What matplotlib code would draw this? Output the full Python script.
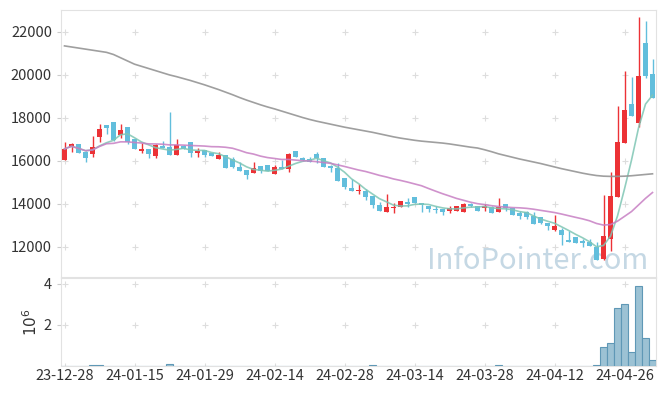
import numpy as np
import pandas as pd
import matplotlib
matplotlib.use('Agg')
import matplotlib.pyplot as plt

# daily OHLC (trading-day index 0..84)
opens = [16060, 16670, 16790, 16430, 16340, 17130, 17680, 17810, 17200, 17580,
         17020, 16470, 16560, 16250, 16710, 16640, 16290, 16700, 16870, 16360,
         16500, 16360, 16110, 16280, 16080, 15710, 15580, 15460, 15770, 15800,
         15380, 15710, 15640, 16470, 16140, 16090, 16330, 16130, 15780, 15690,
         15210, 14740, 14580, 14590, 14370, 13970, 13640, 13830, 13850, 14110,
         14310, 14030, 13880, 13750, 13740, 13660, 13670, 13630, 13990, 13910,
         13790, 13870, 13640, 13990, 13800, 13570, 13640, 13460, 13400, 13120,
         12800, 12790, 12330, 12450, 12280, 12240, 12010, 11430, 12360, 14310,
         16830, 18640, 17760, 21500, 20040]
highs = [16900, 16850, 16800, 16440, 17160, 17720, 17690, 17820, 17720, 17590,
         17030, 16850, 16560, 16770, 16940, 18270, 17010, 16720, 16880, 16600,
         16510, 16370, 16430, 16290, 16200, 15940, 15590, 15950, 15780, 15810,
         15800, 16050, 16390, 16480, 16200, 16200, 16410, 16140, 15790, 15890,
         15220, 15150, 14920, 14700, 14380, 14100, 14450, 14060, 14150, 14260,
         14330, 14040, 13890, 13900, 13750, 13900, 13920, 14020, 14060, 13920,
         14000, 13880, 14270, 14000, 13810, 13670, 13650, 13640, 13410, 13130,
         13490, 12900, 12760, 12460, 12360, 12360, 12220, 14410, 15470, 18570,
         20200, 19910, 22680, 22490, 20720]
lows = [16040, 16420, 16380, 15970, 16200, 16870, 17240, 16940, 17080, 16780,
        16560, 16360, 16130, 16130, 16580, 16270, 16280, 16560, 16200, 16200,
        16200, 16240, 16100, 15680, 15660, 15540, 15180, 15450, 15430, 15510,
        15370, 15630, 15470, 16160, 16010, 15960, 15890, 15730, 15500, 15050,
        14680, 14580, 14450, 14200, 13800, 13680, 13640, 13600, 13840, 13870,
        14020, 13640, 13640, 13570, 13490, 13590, 13660, 13620, 13870, 13680,
        13660, 13590, 13640, 13690, 13490, 13300, 13290, 13060, 13080, 12790,
        12750, 12090, 12220, 12180, 12010, 12040, 11390, 11400, 11810, 14300,
        16820, 18080, 17580, 19870, 18920]
closes = [16560, 16800, 16390, 16150, 16650, 17490, 17550, 16950, 17440, 16880,
          16570, 16560, 16310, 16760, 16590, 16280, 16730, 16570, 16390, 16480,
          16270, 16250, 16290, 15690, 15740, 15550, 15360, 15670, 15520, 15520,
          15740, 15640, 16330, 16170, 16020, 15970, 16140, 15740, 15660, 15060,
          14780, 14590, 14640, 14340, 13950, 13690, 13860, 13870, 14140, 13990,
          14030, 13940, 13770, 13710, 13630, 13810, 13910, 14010, 13880, 13690,
          13910, 13600, 13850, 13800, 13500, 13460, 13380, 13070, 13090, 12980,
          12980, 12560, 12230, 12190, 12170, 12050, 11400, 12510, 14370, 16860,
          18350, 18090, 19970, 19940, 18930]
volumes = [9000, 8000, 12000, 10000, 65000, 60000, 9000, 11000, 8000, 10000,
           9000, 7000, 8000, 9000, 10000, 110000, 12000, 8000, 9000, 7000,
           8000, 7000, 6000, 9000, 8000, 7000, 9000, 8000, 7000, 6000,
           8000, 7000, 10000, 8000, 7000, 6000, 8000, 7000, 6000, 9000,
           10000, 8000, 7000, 9000, 50000, 9000, 10000, 8000, 9000, 7000,
           8000, 6000, 7000, 6000, 7000, 8000, 9000, 10000, 7000, 8000,
           9000, 8000, 50000, 9000, 8000, 7000, 8000, 9000, 7000, 8000,
           10000, 12000, 9000, 8000, 9000, 12000, 40000, 930000, 1120000, 2830000,
           3020000, 680000, 3900000, 1370000, 310000]
# 60-day moving average (needs history before the window)
ma60 = [21350, 21300, 21250, 21200, 21150, 21100, 21050, 20950, 20800, 20650,
        20500, 20400, 20300, 20200, 20100, 20000, 19920, 19830, 19740, 19640,
        19540, 19430, 19320, 19200, 19080, 18950, 18830, 18720, 18610, 18510,
        18420, 18320, 18220, 18120, 18020, 17930, 17850, 17780, 17710, 17640,
        17570, 17510, 17450, 17390, 17330, 17260, 17190, 17120, 17060, 17010,
        16960, 16920, 16890, 16860, 16830, 16790, 16740, 16690, 16640, 16600,
        16520, 16430, 16330, 16250, 16170, 16090, 16020, 15950, 15880, 15800,
        15720, 15640, 15570, 15500, 15430, 15370, 15320, 15290, 15280, 15280,
        15290, 15310, 15340, 15370, 15400]
tick_labels = ['23-12-28', '24-01-15', '24-01-29', '24-02-14', '24-02-28',
               '24-03-14', '24-03-28', '24-04-12', '24-04-26']

o = np.array(opens)
h = np.array(highs)
l = np.array(lows)
c = np.array(closes)
x = np.arange(len(c))
ma5 = pd.Series(closes).rolling(5, min_periods=1).mean()
ma20 = pd.Series(closes).rolling(20, min_periods=1).mean()

UP = '#ec3236'
DOWN = '#62bedc'
fams = ['Noto Sans CJK KR', 'DejaVu Sans']

fig = plt.figure(figsize=(6.65, 3.96), dpi=100)
ax = fig.add_axes([61/665, 1-277/396, 595/665, 267/396])
axv = fig.add_axes([61/665, 1-366/396, 595/665, 88/396], sharex=ax)

cols = np.where(c >= o, UP, DOWN)
ax.vlines(x, l, h, colors=cols, lw=1.0, zorder=3)
body = np.maximum(np.abs(c - o), 25)
ax.bar(x, body, bottom=np.minimum(o, c), width=0.6, color=cols, zorder=3)

ax.plot(x, ma5, color='#7fc6b4', lw=1.2, alpha=0.85, zorder=4)
ax.plot(x, ma20, color='#c77fc3', lw=1.2, alpha=0.85, zorder=4)
ax.plot(x, ma60, color='#959595', lw=1.2, alpha=0.9, zorder=4)

ax.text(0.987, 0.03, 'InfoPointer.com', transform=ax.transAxes, ha='right',
        va='baseline', fontsize=21, color='#c5d8e4', family=fams, zorder=1)

axv.bar(x, volumes, width=1.0, color='#9cc2d4', edgecolor='#5f98b6', lw=0.8, zorder=3)

xt = np.arange(0, len(c), 10)
yt = np.arange(12000, 22001, 2000)
vt = [0, 2e6, 4e6]
gx, gy = np.meshgrid(xt, yt)
ax.plot(gx.ravel(), gy.ravel(), '+', color='#dddddd', ms=5, mew=0.8, zorder=0)
gx, gy = np.meshgrid(xt, vt)
axv.plot(gx.ravel(), gy.ravel(), '+', color='#dddddd', ms=5, mew=0.8, zorder=0)

ax.set_xlim(-0.5, len(c) - 0.5)
ax.set_ylim(10600, 23020)
axv.set_ylim(0, 4.28e6)

ax.set_yticks(yt)
ax.set_yticklabels([str(v) for v in yt], family=fams, fontsize=10.5)
ax.tick_params(axis='x', bottom=False, labelbottom=False)
axv.set_xticks(xt)
axv.set_xticklabels(tick_labels, family=fams, fontsize=10.5)
axv.set_yticks([2e6, 4e6])
axv.set_yticklabels(['2', '4'], family=fams, fontsize=10.5)
axv.set_ylabel(r'$10^6$', fontsize=11, color='#333333', labelpad=3)

for a in (ax, axv):
    for s in a.spines.values():
        s.set_color('#e2e2e2')
    a.tick_params(colors='#cccccc', labelcolor='#333333', length=3, width=0.8)
axv.tick_params(axis='x', length=0, pad=2)

fig.savefig('out.png', dpi=100)
